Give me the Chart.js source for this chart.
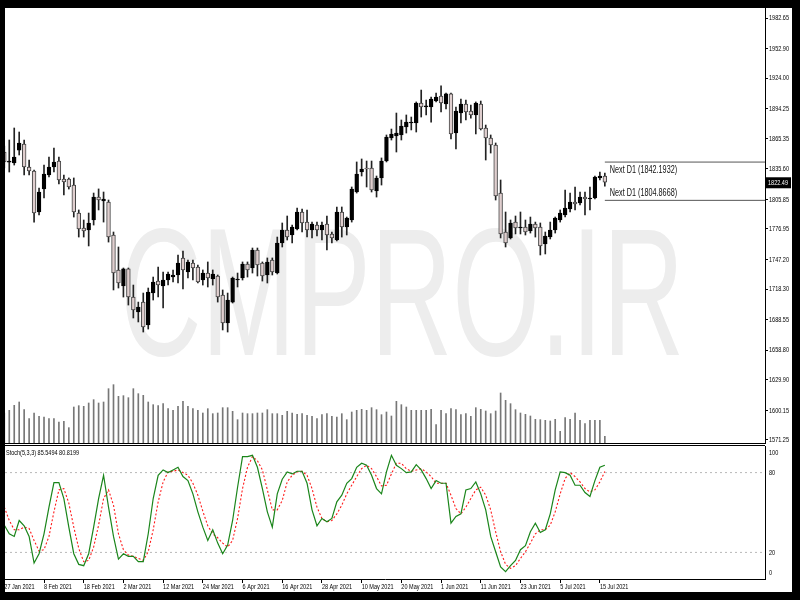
<!DOCTYPE html>
<html>
<head>
<meta charset="utf-8">
<title>XAUUSD D1</title>
<script src="https://cdn.jsdelivr.net/npm/chart.js@4.4.1/dist/chart.umd.min.js"></script>
<style>
  html, body { margin: 0; padding: 0; background: #000; }
  #frame { position: absolute; left: 5px; top: 8px; width: 787px; height: 584px; background: #fff; overflow: hidden; }
  .box { position: absolute; left: 0; width: 787px; }
  .sep { position: absolute; left: 0; width: 760px; height: 1px; background: #000; }
</style>
</head>
<body>
<div id="frame">
  <div class="box" style="top:0;height:437px"><canvas id="mainChart"></canvas></div>
  <div class="box" style="top:437px;height:147px"><canvas id="stochChart"></canvas></div>
  <div class="sep" style="top:435px"></div>
  <div class="sep" style="top:437px"></div>
</div>
<script>
// daily candles, 27 Jan 2021 .. 16 Jul 2021 (bar index 0..121)
const opens = [1852.0,1842.2,1841.3,1853.9,1859.8,1837.4,1833.5,1793.5,1815.9,1829.6,
  1837.4,1843.2,1825.7,1825.7,1819.8,1792.5,1777.9,1776.0,1785.7,1808.1,
  1804.2,1803.2,1771.1,1737.0,1721.4,1738.0,1710.6,1696.0,1705.7,1683.3,
  1714.5,1726.2,1721.4,1727.2,1730.1,1732.1,1748.7,1735.0,1743.8,1739.9,
  1727.2,1734.0,1728.2,1731.1,1712.6,1685.3,1705.7,1727.2,1729.2,1742.8,
  1738.9,1756.5,1743.8,1732.1,1746.7,1734.0,1763.3,1776.0,1771.1,1776.9,
  1793.5,1783.7,1776.0,1780.8,1776.0,1781.8,1772.1,1766.2,1793.5,1778.9,
  1785.7,1813.0,1832.5,1836.4,1836.4,1814.0,1826.7,1843.2,1865.7,1867.6,
  1868.6,1876.4,1880.3,1880.3,1899.8,1895.9,1895.9,1901.7,1906.6,1898.8,
  1908.6,1870.5,1890.0,1898.8,1892.0,1888.1,1898.8,1875.4,1865.7,1858.8,
  1812.0,1774.0,1768.2,1783.7,1777.9,1778.9,1775.0,1781.8,1778.9,1762.3,
  1769.1,1776.0,1785.7,1790.6,1796.4,1803.2,1802.3,1808.1,1806.2,1807.2,
  1826.7,1828.6];
const highs = [1857.9,1863.7,1875.4,1871.5,1863.7,1844.2,1834.5,1816.9,1839.3,1847.1,
  1855.9,1847.1,1829.6,1826.7,1826.7,1795.5,1785.7,1792.5,1812.0,1816.0,
  1813.0,1805.2,1774.0,1759.4,1738.9,1738.9,1722.3,1705.7,1714.5,1719.4,
  1730.1,1739.9,1735.0,1735.0,1737.0,1751.6,1755.5,1746.7,1746.7,1741.8,
  1737.0,1744.8,1737.0,1732.1,1717.5,1714.5,1730.1,1734.0,1744.8,1744.8,
  1758.4,1758.4,1744.8,1748.7,1748.7,1769.1,1782.8,1789.6,1780.8,1797.4,
  1796.4,1795.5,1783.7,1783.7,1783.7,1789.6,1774.0,1798.4,1798.4,1788.6,
  1817.9,1842.3,1845.2,1843.2,1843.2,1828.6,1846.2,1868.6,1874.4,1890.0,
  1883.2,1888.1,1886.1,1900.8,1912.4,1902.7,1905.6,1909.5,1916.4,1909.5,
  1909.5,1895.9,1903.7,1902.7,1897.8,1900.8,1901.7,1878.3,1868.6,1860.8,
  1824.7,1793.5,1785.7,1789.6,1793.5,1785.7,1788.6,1783.7,1782.8,1774.0,
  1783.7,1788.6,1795.5,1815.0,1812.0,1817.9,1813.0,1813.0,1817.9,1828.6,
  1832.5,1831.5];
const lows = [1836.4,1832.5,1839.3,1849.1,1829.6,1829.6,1783.7,1790.6,1807.2,1827.6,
  1832.5,1820.8,1810.1,1815.9,1788.6,1769.1,1769.1,1760.4,1780.8,1795.5,
  1783.7,1764.2,1717.5,1719.4,1710.6,1702.8,1690.2,1686.3,1676.5,1679.4,
  1707.7,1710.6,1699.9,1722.3,1725.3,1724.3,1718.4,1729.2,1727.2,1724.3,
  1722.3,1720.4,1722.3,1705.7,1678.5,1676.5,1704.8,1720.4,1727.2,1730.1,
  1734.0,1731.1,1726.2,1724.3,1732.1,1733.1,1759.4,1766.2,1763.3,1776.0,
  1774.0,1769.1,1768.2,1770.1,1766.2,1756.5,1763.3,1765.2,1769.1,1771.1,
  1783.7,1812.0,1828.6,1817.9,1813.0,1808.1,1819.8,1842.3,1863.7,1852.0,
  1863.7,1870.5,1873.5,1871.5,1886.1,1888.1,1881.2,1900.8,1891.0,1894.0,
  1864.7,1854.9,1880.3,1883.2,1885.1,1869.6,1873.5,1844.2,1851.0,1805.2,
  1768.2,1759.4,1767.2,1772.1,1772.1,1771.1,1773.0,1769.1,1751.6,1752.6,
  1767.2,1773.0,1783.7,1788.6,1793.5,1795.5,1800.3,1790.6,1795.5,1806.2,
  1824.7,1818.8];
const closes = [1842.3,1843.2,1847.1,1860.8,1837.4,1833.5,1792.5,1813.0,1830.5,1837.4,
  1842.3,1824.7,1822.8,1817.9,1793.5,1776.9,1775.0,1782.8,1808.1,1805.2,
  1806.2,1769.1,1734.0,1724.3,1738.0,1710.6,1698.0,1700.9,1681.4,1715.5,
  1725.3,1722.3,1727.2,1733.1,1732.1,1743.8,1737.0,1744.8,1738.9,1725.3,
  1734.0,1729.2,1733.1,1710.6,1685.3,1707.7,1729.2,1728.2,1742.8,1737.0,
  1756.5,1741.8,1731.1,1744.8,1735.0,1763.3,1776.0,1769.1,1778.9,1793.5,
  1782.8,1776.0,1781.8,1776.0,1780.8,1771.1,1768.2,1793.5,1778.9,1787.7,
  1815.9,1830.5,1835.4,1835.4,1815.0,1826.7,1843.2,1866.6,1869.6,1870.5,
  1877.4,1881.2,1881.2,1899.8,1895.9,1896.9,1903.7,1905.6,1899.8,1908.6,
  1869.6,1892.0,1898.8,1891.0,1888.1,1899.8,1874.4,1865.7,1858.8,1809.1,
  1772.1,1763.3,1782.8,1777.9,1778.9,1774.0,1781.8,1777.9,1760.4,1770.1,
  1776.0,1787.7,1792.5,1797.4,1803.2,1801.3,1808.1,1806.2,1807.2,1827.6,
  1828.6,1822.49];
const volumes = [900,980,1130,1230,1000,730,900,800,780,730,
  730,630,650,460,1080,1120,1100,1200,1300,1200,
  1230,1630,1750,1400,1420,1360,1630,1480,1430,1230,
  1150,1120,1180,1030,980,1100,1250,1100,1030,980,
  900,1030,880,900,1060,1060,950,700,900,880,
  880,900,900,1000,880,880,830,950,900,860,
  880,830,800,730,850,880,800,780,880,700,
  930,980,1010,980,1060,1000,850,930,810,1250,
  1150,1080,980,980,980,980,1010,550,980,880,
  1030,1000,850,880,800,1060,1010,960,880,960,
  1500,1280,1180,1000,900,860,810,710,700,680,
  660,710,350,760,710,900,680,580,680,680,
  680,200];
const stochK = [40.5,34,32,44,40,32,12,19,34,54,
  72.5,72.5,60.5,39,19,11,10,19,39,60.5,
  78,54,32,15,19,17,17,13,13,34,
  60.5,78,82,80,82,84,77,74,64,50.5,
  39,29,37,27,19,25.5,44,69,92,92,
  93,84,68,50.5,39,64,75,80.5,79,81,
  81,72,52,40,45.5,43,45.5,58,63,72,
  75.5,84,87,85.5,78,68,64,80.5,93,85.5,
  83,80,80.5,86,82,75.5,68,74,72,72,
  42,47,49,67,68,73,64,52,32,20.5,
  9,5.5,10,14,22,25,35.5,42,35,37,
  49,67,80.5,80,78,70.5,70.5,65,62,74,
  84,85.5494];
const stochD = [54,44,37,37,39,38,29,21,22,32,
  50.5,67,68,57,39,23,13,14,24,40.5,
  60.5,67,55.5,34,22,18,17,15.5,14,20.5,
  37,58,73,80.5,81,82,80,78,72,63,
  51,40,34,31,27,24,29,45.5,68,84,
  92,89,82,67,52,52,59,73,78,80.5,
  81,78,68,54,45.5,43,44,49,55.5,64,
  70.5,77,83,85.5,83,77,70,70.5,79,87,
  87,83,81,82,83,80.5,77,72,72,72,
  63,53,49,54,60.5,67,69,63,52,35.5,
  20.5,11,8,10,15.5,20.5,27,34,37,37,
  40.5,50.5,64,75.5,80,77,73,68,65.5,67,
  73,80.8199];

const dateLabels = ['27 Jan 2021','8 Feb 2021','18 Feb 2021','2 Mar 2021','12 Mar 2021','24 Mar 2021',
  '6 Apr 2021','16 Apr 2021','28 Apr 2021','10 May 2021','20 May 2021','1 Jun 2021','11 Jun 2021',
  '23 Jun 2021','5 Jul 2021','15 Jul 2021'];
const dateLabelBars = [0,8,16,24,32,40,48,56,64,72,80,88,96,104,112,120];
const priceTicks = [1571.25,1600.15,1629.90,1658.80,1688.55,1718.30,1747.20,1776.95,1805.85,
  1835.60,1865.35,1894.25,1924.00,1952.90,1982.65];
const stochLevels = [20, 80];
const stochTickValues = [5, 20, 80, 95];
const stochTickLabels = ['0', '20', '80', '100'];
const nextD1High = 1842.1932;
const nextD1Low = 1804.8668;
const lastPrice = 1822.49;
const stochTitle = 'Stoch(5,3,3) 85.5494 80.8199';
const watermark = 'CMPRO.IR';

const xMin = 0.14, xMax = 153.27;
const fontFamily = '"Liberation Sans", Arial, sans-serif';
const squeeze = 0.69; // terminal text is narrow

function noPad(scale) {
  scale.paddingTop = 0; scale.paddingBottom = 0; scale.paddingLeft = 0; scale.paddingRight = 0;
}

// narrow text: draw with a horizontal squeeze
function narrowText(ctx, text, x, y, sx) {
  ctx.save();
  ctx.translate(x, y);
  ctx.scale(sx, 1);
  ctx.fillText(text, 0, 0);
  ctx.restore();
}

const bull = opens.map((o, i) => closes[i] >= o);

const mainLabels = {
  id: 'mainLabels',
  beforeDatasetsDraw(chart) {
    const { ctx } = chart;
    ctx.save();
    ctx.font = '182px ' + fontFamily;
    ctx.fillStyle = '#ededed';
    ctx.textBaseline = 'alphabetic';
    narrowText(ctx, watermark, 115, 347, 0.62);
    ctx.restore();
  },
  afterDraw(chart) {
    const { ctx, chartArea } = chart;
    const x = chart.scales.x, y = chart.scales.y;
    ctx.save();
    ctx.textBaseline = 'middle';
    ctx.textAlign = 'left';
    // price axis labels
    ctx.fillStyle = '#000';
    ctx.font = '8px ' + fontFamily;
    y.ticks.forEach(t => narrowText(ctx, t.value.toFixed(2), chartArea.right + 4, y.getPixelForValue(t.value), squeeze));
    // Next D1 levels
    ctx.fillStyle = '#111';
    ctx.font = '10.5px ' + fontFamily;
    const lx = x.getPixelForValue(opens.length - 1) + 5;
    narrowText(ctx, 'Next D1 (' + nextD1High.toFixed(4) + ')', lx, y.getPixelForValue(nextD1High) + 8, squeeze);
    narrowText(ctx, 'Next D1 (' + nextD1Low.toFixed(4) + ')', lx, y.getPixelForValue(nextD1Low) - 7, squeeze);
    // current price box
    const py = y.getPixelForValue(lastPrice);
    ctx.fillStyle = '#000';
    ctx.fillRect(chartArea.right + 1, py - 5, 25, 11);
    ctx.fillStyle = '#fff';
    ctx.font = '8px ' + fontFamily;
    narrowText(ctx, lastPrice.toFixed(2), chartArea.right + 3, py + 0.5, squeeze);
    ctx.restore();
  }
};

const stochLabels = {
  id: 'stochLabels',
  afterDraw(chart) {
    const { ctx, chartArea } = chart;
    const x = chart.scales.x, y = chart.scales.y;
    ctx.save();
    ctx.textBaseline = 'middle';
    ctx.textAlign = 'left';
    ctx.fillStyle = '#000';
    ctx.font = '8px ' + fontFamily;
    y.ticks.forEach((t, i) => narrowText(ctx, stochTickLabels[i], chartArea.right + 4, y.getPixelForValue(t.value), squeeze));
    x.ticks.forEach((t, i) => narrowText(ctx, dateLabels[i], x.getPixelForValue(t.value), chartArea.bottom + 8, squeeze));
    narrowText(ctx, stochTitle, chartArea.left + 1, chartArea.top + 7, squeeze);
    ctx.restore();
  }
};

new Chart(document.getElementById('mainChart'), {
  type: 'bar',
  data: {
    datasets: [
      {
        type: 'line', order: 0,
        data: [{ x: opens.length - 1, y: nextD1High }, { x: xMax, y: nextD1High }],
        borderColor: '#555', borderWidth: 1, pointRadius: 0
      },
      {
        type: 'line', order: 0,
        data: [{ x: opens.length - 1, y: nextD1Low }, { x: xMax, y: nextD1Low }],
        borderColor: '#555', borderWidth: 1, pointRadius: 0
      },
      {
        order: 1,
        data: opens.map((o, i) => ({ x: i, y: [o, closes[i]] })),
        backgroundColor: bull.map(b => b ? '#000' : '#e0cfcf'),
        borderColor: bull.map(b => b ? '#000' : '#444'),
        borderWidth: 1, borderSkipped: false, barThickness: 3.8, minBarLength: 1, grouped: false
      },
      {
        order: 2,
        data: lows.map((l, i) => ({ x: i, y: [l, highs[i]] })),
        backgroundColor: '#222', barThickness: 1, grouped: false
      },
      {
        order: 3, yAxisID: 'yv',
        data: volumes.map((v, i) => ({ x: i, y: v })),
        backgroundColor: '#777', barThickness: 1, grouped: false
      }
    ]
  },
  options: {
    responsive: true,
    maintainAspectRatio: false,
    animation: false,
    events: [],
    layout: { padding: { top: 0, left: 0, right: 0, bottom: 2 } },
    plugins: { legend: { display: false }, tooltip: { enabled: false } },
    scales: {
      x: { type: 'linear', min: xMin, max: xMax, offset: false, display: false },
      y: {
        position: 'right', min: 1568.3, max: 1992.4,
        afterBuildTicks: s => { s.ticks = priceTicks.map(v => ({ value: v })); },
        afterFit: s => { s.width = 27; noPad(s); },
        ticks: { display: false, autoSkip: false },
        grid: { drawOnChartArea: false, drawTicks: true, tickLength: 3, color: '#000' },
        border: { display: true, color: '#000', width: 1 }
      },
      yv: { display: false, min: 0, max: 13050 }
    }
  },
  plugins: [mainLabels]
});

const levelSets = stochLevels.map(l => ({
  data: [{ x: xMin, y: l }, { x: xMax, y: l }],
  borderColor: '#b8b8b8', borderWidth: 1, borderDash: [2, 3], pointRadius: 0
}));

new Chart(document.getElementById('stochChart'), {
  type: 'line',
  data: {
    datasets: [
      {
        data: stochK.map((v, i) => ({ x: i, y: v })),
        borderColor: '#1a851a', borderWidth: 1.2, pointRadius: 0, tension: 0
      },
      {
        data: stochD.map((v, i) => ({ x: i, y: v })),
        borderColor: '#ff1a1a', borderWidth: 1.1, borderDash: [2, 2], pointRadius: 0, tension: 0
      },
      ...levelSets
    ]
  },
  options: {
    responsive: true,
    maintainAspectRatio: false,
    animation: false,
    events: [],
    layout: { padding: { top: 1, left: 0, right: 0, bottom: 0 } },
    plugins: { legend: { display: false }, tooltip: { enabled: false } },
    scales: {
      x: {
        type: 'linear', min: xMin, max: xMax,
        afterBuildTicks: s => { s.ticks = dateLabelBars.map(v => ({ value: v })); },
        afterFit: s => { s.height = 13; noPad(s); },
        ticks: { display: false, autoSkip: false },
        grid: { drawOnChartArea: false, drawTicks: true, tickLength: 4, color: '#000' },
        border: { display: true, color: '#000', width: 1 }
      },
      y: {
        position: 'right', min: 0, max: 100,
        afterBuildTicks: s => { s.ticks = stochTickValues.map(v => ({ value: v })); },
        afterFit: s => { s.width = 27; noPad(s); },
        ticks: { display: false, autoSkip: false },
        grid: { drawOnChartArea: false, drawTicks: false },
        border: { display: true, color: '#000', width: 1 }
      }
    }
  },
  plugins: [stochLabels]
});
</script>
</body>
</html>
